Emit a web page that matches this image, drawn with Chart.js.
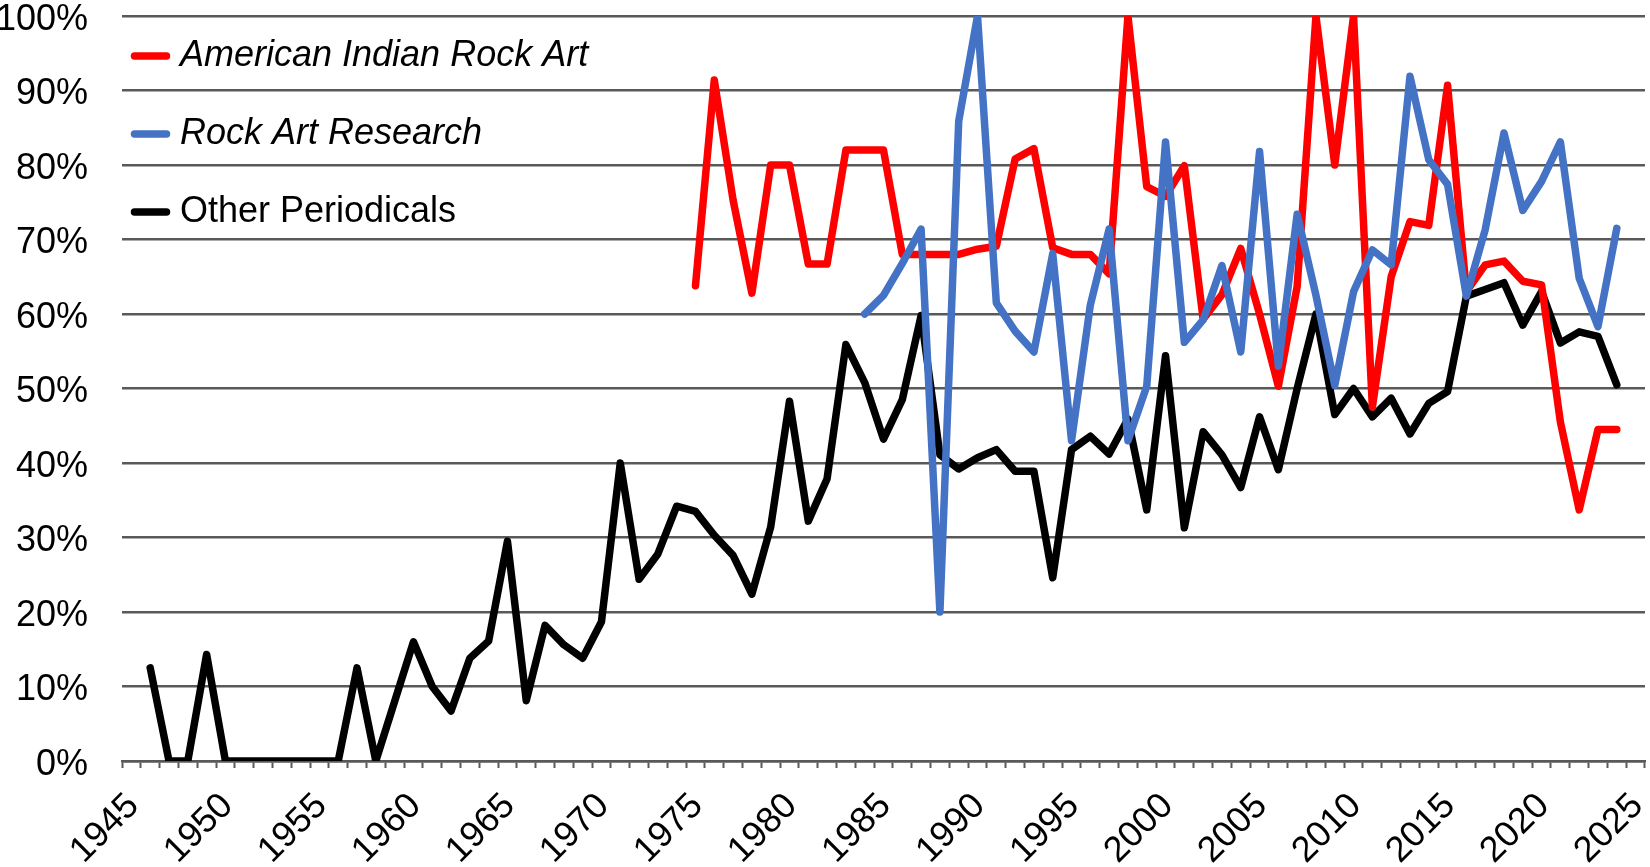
<!DOCTYPE html>
<html>
<head>
<meta charset="utf-8">
<script src="https://cdn.jsdelivr.net/npm/chart.js@4.4.1/dist/chart.umd.min.js"></script>
<style>
html,body{margin:0;padding:0;background:#ffffff;}
#wrap{width:1650px;height:867px;position:relative;}
</style>
</head>
<body>
<div id="wrap"><canvas id="c" width="1650" height="867"></canvas></div>
<script>
const years = [1945,1946,1947,1948,1949,1950,1951,1952,1953,1954,1955,1956,1957,1958,1959,1960,1961,1962,1963,1964,1965,1966,1967,1968,1969,1970,1971,1972,1973,1974,1975,1976,1977,1978,1979,1980,1981,1982,1983,1984,1985,1986,1987,1988,1989,1990,1991,1992,1993,1994,1995,1996,1997,1998,1999,2000,2001,2002,2003,2004,2005,2006,2007,2008,2009,2010,2011,2012,2013,2014,2015,2016,2017,2018,2019,2020,2021,2022,2023,2024,2025];

const tickYears = [1945,1950,1955,1960,1965,1970,1975,1980,1985,1990,1995,2000,2005,2010,2015,2020,2025];

// American Indian Rock Art (1945..2025)
const airaValues = [
 null,null,null,null,null,null,null,null,null,null,
 null,null,null,null,null,null,null,null,null,null,
 null,null,null,null,null,null,null,null,null,null,
 63.8,91.4,75.3,62.8,80,80,66.7,66.7,82,82,
 82,68,68,68,68,68.7,69.1,80.8,82.2,68.9,
 68,68,65.4,100,77.1,75.8,79.9,59.3,62.6,68.8,
 60,50.3,63.7,100,80,100,47.5,65,72.4,71.9,
 90.7,63,66.6,67.1,64.4,63.9,45.5,33.7,44.5,44.5,
 null
];

// Rock Art Research (1945..2025)
const rarValues = [
 null,null,null,null,null,null,null,null,null,null,
 null,null,null,null,null,null,null,null,null,null,
 null,null,null,null,null,null,null,null,null,null,
 null,null,null,null,null,null,null,null,null,60,
 62.5,66.8,71.4,20,85.9,100,61.5,57.7,54.9,68.1,
 43,61.2,71.4,43,50.3,83.1,56.2,59.2,66.5,54.9,
 81.8,53,73.4,62.5,50.4,63,68.6,66.6,91.9,80.7,
 77.4,62.4,71.3,84.3,73.9,77.8,83.1,64.8,58.3,71.5,
 null
];

// Other Periodicals (1945..2025)
const otherValues = [
 null,12.5,0,0,14.3,0,0,0,0,0,
 0,0,12.5,0,8,16,10,6.7,13.8,16.1,
 29.5,8.1,18.2,15.6,13.8,18.7,40,24.4,27.8,34.2,
 33.5,30.3,27.6,22.4,31.4,48.3,32.2,37.9,55.9,50.8,
 43.2,48.5,59.8,41.1,39.2,40.7,41.8,38.9,38.9,24.6,
 41.8,43.6,41.2,45.9,33.7,54.4,31.3,44.2,41.1,36.7,
 46.2,39.1,50,60,46.5,50,46.2,48.7,43.9,48,
 49.6,62.4,63.3,64.2,58.5,63,56.1,57.6,57,50.5,
 null
];

const FONT = "'Liberation Sans', Arial, Helvetica, sans-serif";
const FONT_SIZE = 36;
Chart.defaults.font.family = FONT;
Chart.defaults.font.size = FONT_SIZE;
Chart.defaults.color = '#000000';

const legendPlugin = {
  id: 'sideLegend',
  afterDraw(chart) {
    const ctx = chart.ctx;
    const rows = [56, 134, 212];
    ctx.save();
    chart.data.datasets.forEach((ds, k) => {
      const y = rows[k];
      ctx.strokeStyle = ds.borderColor;
      ctx.lineWidth = 7.5;
      ctx.lineCap = 'round';
      ctx.beginPath();
      ctx.moveTo(134.5, y);
      ctx.lineTo(166.5, y);
      ctx.stroke();
      ctx.fillStyle = '#000000';
      ctx.font = (ds.italicLabel ? 'italic ' : '') + FONT_SIZE + 'px ' + FONT;
      ctx.textAlign = 'left';
      ctx.textBaseline = 'middle';
      ctx.fillText(ds.label, 180, y);
    });
    ctx.restore();
  }
};

const gridColor = '#595959';
const LW = 7.5;

function lineDs(label, italic, data, color, order) {
  return {
    label: label,
    italicLabel: italic,
    data: data,
    borderColor: color,
    backgroundColor: color,
    borderWidth: LW,
    pointRadius: 0,
    pointHoverRadius: 0,
    tension: 0,
    borderJoinStyle: 'round',
    borderCapStyle: 'round',
    order: order
  };
}

new Chart(document.getElementById('c'), {
  type: 'line',
  data: {
    labels: years,
    datasets: [
      lineDs('American Indian Rock Art', true, airaValues, '#FF0000', 1),
      lineDs('Rock Art Research', true, rarValues, '#4472C4', 0),
      lineDs('Other Periodicals', false, otherValues, '#000000', 2)
    ]
  },
  options: {
    responsive: false,
    animation: false,
    devicePixelRatio: 1,
    layout: { padding: { top: 16, right: 5, left: 0, bottom: 0 } },
    plugins: {
      legend: { display: false },
      tooltip: { enabled: false }
    },
    scales: {
      x: {
        type: 'category',
        offset: true,
        grid: {
          offset: true,
          drawOnChartArea: false,
          drawTicks: true,
          tickLength: 7,
          tickWidth: 2,
          tickColor: gridColor
        },
        border: { display: true, color: gridColor, width: 2.5 },
        ticks: {
          autoSkip: false,
          minRotation: 45,
          maxRotation: 45,
          padding: 17,
          labelOffset: 2,
          font: { size: FONT_SIZE },
          color: '#000000',
          callback: function(value, index) {
            const yr = years[index];
            return tickYears.includes(yr) ? String(yr) : '';
          }
        },
        afterFit: function(scale) {
          scale.height = 106;
          scale.paddingLeft = 0;
          scale.paddingRight = 0;
        }
      },
      y: {
        min: 0,
        max: 100,
        grid: {
          color: gridColor,
          lineWidth: 2.5,
          drawTicks: false
        },
        border: { display: false },
        ticks: {
          stepSize: 10,
          padding: 34,
          labelOffset: 4,
          font: { size: FONT_SIZE },
          color: '#000000',
          callback: function(v) { return v + '%'; }
        },
        afterFit: function(scale) {
          scale.width = 122;
          scale.paddingTop = 0;
          scale.paddingBottom = 0;
        }
      }
    }
  },
  plugins: [legendPlugin]
});
</script>
</body>
</html>
